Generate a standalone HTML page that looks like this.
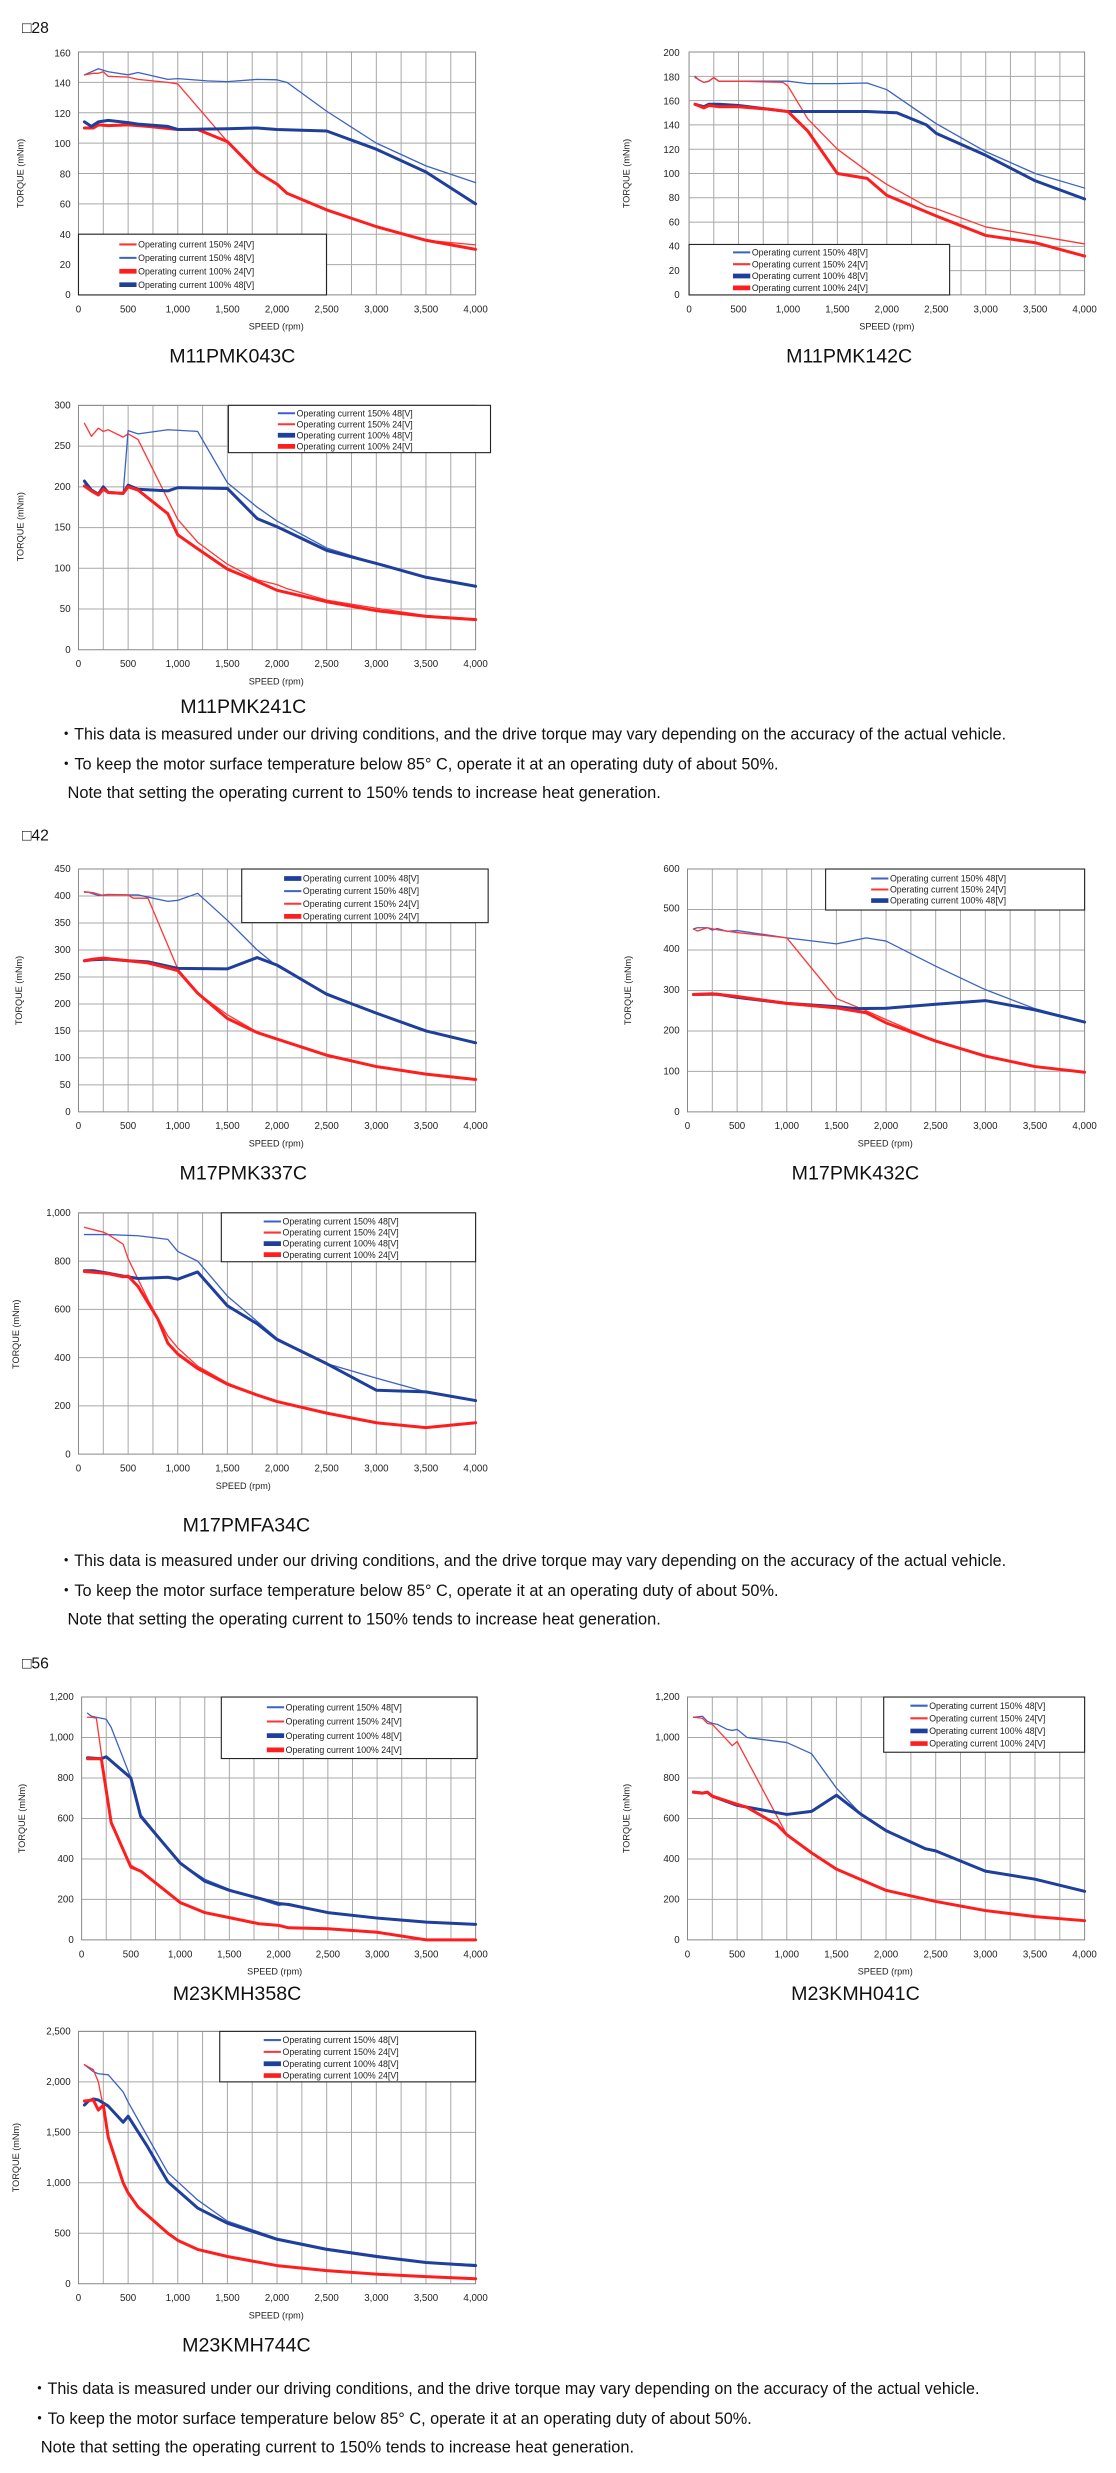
<!DOCTYPE html>
<html><head><meta charset="utf-8"><style>
html,body{margin:0;padding:0;background:#fff}
svg{display:block}
text{font-family:"Liberation Sans","DejaVu Sans",sans-serif;fill:#222}
.g{stroke:#a8a8a8;fill:none;vector-effect:non-scaling-stroke;stroke-width:1}
.bd{stroke:#888;fill:none;vector-effect:non-scaling-stroke;stroke-width:1}
polyline{fill:none;vector-effect:non-scaling-stroke;stroke-linejoin:round;stroke-linecap:round}
.tb{stroke:#3c62c4;stroke-width:1.3}
.tr{stroke:#ff3535;stroke-width:1.3}
.Tb{stroke:#1e3f9c;stroke-width:3}
.Tr{stroke:#ff1e1e;stroke-width:3}
.lg{fill:#fff;stroke:#222;stroke-width:.7}
.lt{font-size:5.6px}
.yt{font-size:6.2px;text-anchor:end}
.xt{font-size:6.2px;text-anchor:middle}
.ax{font-size:5.8px;text-anchor:middle}
.ti{font-size:12.5px;text-anchor:middle;fill:#111}
.nt{font-size:10.5px;fill:#111}
.hd{font-size:10px;fill:#111}
</style></head><body>
<svg width="1116" height="2473" viewBox="0 0 711 1568" preserveAspectRatio="none" xmlns="http://www.w3.org/2000/svg">

<text class="hd" x="14" y="21" font-family="DejaVu Sans">□28</text>

<!-- Chart 1 -->
<svg x="50" y="33" width="253" height="154" viewBox="0 0 4000 160" preserveAspectRatio="none" overflow="visible"><g transform="translate(0 160) scale(1 -1)">
<path class="g" d="M250 0V160M500 0V160M750 0V160M1000 0V160M1250 0V160M1500 0V160M1750 0V160M2000 0V160M2250 0V160M2500 0V160M2750 0V160M3000 0V160M3250 0V160M3500 0V160M3750 0V160M0 20H4000M0 40H4000M0 60H4000M0 80H4000M0 100H4000M0 120H4000M0 140H4000M0 160H4000"/>
<rect class="bd" x="0" y="0" width="4000" height="160"/>
<polyline class="tb" points="60,145 200,149 300,147 500,145 600,146.5 900,142 1000,142.5 1300,141 1500,140.5 1800,142 2000,141.7 2100,140 2500,121 3000,100 3500,85 4000,74"/>
<polyline class="tr" points="60,145 150,146 200,146 250,147 300,144 500,143.5 600,142 900,140 1000,139 1500,101 1800,81 2000,73 2100,67 2500,56 3000,45 3500,36 4000,33"/>
<polyline class="Tr" points="60,110 150,110 200,112 300,111.5 500,112 700,111 1000,109 1200,109 1500,101 1800,81 2000,73 2100,67 2500,56 3000,45 3500,36 4000,30"/>
<polyline class="Tb" points="60,114 130,111 200,114 300,115 500,113.5 600,112.5 900,111 1000,109 1500,109.5 1800,110 2000,109 2500,108 3000,96 3500,81 4000,60"/>
</g></svg>
<rect class="lg" x="50" y="148.5" width="158" height="38.5"/>
<line class="tr" x1="76" y1="155" x2="87" y2="155"/><text class="lt" x="88" y="157">Operating current 150% 24[V]</text>
<line class="tb" x1="76" y1="163.5" x2="87" y2="163.5"/><text class="lt" x="88" y="165.5">Operating current 150% 48[V]</text>
<line class="Tr" x1="76" y1="172" x2="87" y2="172"/><text class="lt" x="88" y="174">Operating current 100% 24[V]</text>
<line class="Tb" x1="76" y1="180.5" x2="87" y2="180.5"/><text class="lt" x="88" y="182.5">Operating current 100% 48[V]</text>
<text class="yt" x="45" y="189">0</text><text class="yt" x="45" y="170">20</text><text class="yt" x="45" y="150.8">40</text><text class="yt" x="45" y="131.6">60</text><text class="yt" x="45" y="112.4">80</text><text class="yt" x="45" y="93.3">100</text><text class="yt" x="45" y="74.1">120</text><text class="yt" x="45" y="55">140</text><text class="yt" x="45" y="35.8">160</text>
<g class="xt"><text class="xt" x="50" y="198">0</text><text class="xt" x="81.6" y="198">500</text><text class="xt" x="113.3" y="198">1,000</text><text class="xt" x="144.9" y="198">1,500</text><text class="xt" x="176.5" y="198">2,000</text><text class="xt" x="208.1" y="198">2,500</text><text class="xt" x="239.8" y="198">3,000</text><text class="xt" x="271.4" y="198">3,500</text><text class="xt" x="303" y="198">4,000</text></g>
<text class="ax" x="176" y="209">SPEED (rpm)</text>
<text class="ax" transform="translate(15 110) rotate(-90)">TORQUE (mNm)</text>
<text class="ti" x="148" y="230">M11PMK043C</text>

<!-- Chart 2 -->
<svg x="439" y="33" width="252" height="154" viewBox="0 0 4000 200" preserveAspectRatio="none" overflow="visible"><g transform="translate(0 200) scale(1 -1)">
<path class="g" d="M250 0V200M500 0V200M750 0V200M1000 0V200M1250 0V200M1500 0V200M1750 0V200M2000 0V200M2250 0V200M2500 0V200M2750 0V200M3000 0V200M3250 0V200M3500 0V200M3750 0V200M0 20H4000M0 40H4000M0 60H4000M0 80H4000M0 100H4000M0 120H4000M0 140H4000M0 160H4000M0 180H4000M0 200H4000"/>
<rect class="bd" x="0" y="0" width="4000" height="200"/>
<polyline class="tb" points="60,180 100,177 150,175 200,176 250,179 300,176 500,176 1000,176 1200,174 1500,174 1800,174.5 2000,169 2500,141 3000,118 3500,100 4000,88"/>
<polyline class="tr" points="60,179 150,175 200,176 250,179 300,176 500,176 950,175 1000,172 1200,145 1500,120 1800,102 2000,91 2200,82 2400,73 2500,71 3000,56 3500,49 4000,42"/>
<polyline class="Tb" points="60,157 150,155 200,157 300,157 500,156 1000,151 1500,151 1800,151 2100,150 2400,140 2500,133 3000,115 3500,94 4000,79"/>
<polyline class="Tr" points="60,157 150,154 200,156 300,155 500,155 800,153 1000,151 1200,135 1500,100 1800,96 2000,82 2500,65 3000,49 3500,43 4000,32"/>
</g></svg>
<rect class="lg" x="439" y="155" width="166" height="32"/>
<line class="tb" x1="467" y1="160" x2="478" y2="160"/><text class="lt" x="479" y="162">Operating current 150% 48[V]</text>
<line class="tr" x1="467" y1="167.5" x2="478" y2="167.5"/><text class="lt" x="479" y="169.5">Operating current 150% 24[V]</text>
<line class="Tb" x1="467" y1="175" x2="478" y2="175"/><text class="lt" x="479" y="177">Operating current 100% 48[V]</text>
<line class="Tr" x1="467" y1="182.5" x2="478" y2="182.5"/><text class="lt" x="479" y="184.5">Operating current 100% 24[V]</text>
<text class="yt" x="433" y="189">0</text><text class="yt" x="433" y="173.7">20</text><text class="yt" x="433" y="158.3">40</text><text class="yt" x="433" y="143">60</text><text class="yt" x="433" y="127.6">80</text><text class="yt" x="433" y="112.3">100</text><text class="yt" x="433" y="96.9">120</text><text class="yt" x="433" y="81.6">140</text><text class="yt" x="433" y="66.2">160</text><text class="yt" x="433" y="50.9">180</text><text class="yt" x="433" y="35.5">200</text>
<text class="xt" x="439" y="198">0</text><text class="xt" x="470.5" y="198">500</text><text class="xt" x="502" y="198">1,000</text><text class="xt" x="533.5" y="198">1,500</text><text class="xt" x="565" y="198">2,000</text><text class="xt" x="596.5" y="198">2,500</text><text class="xt" x="628" y="198">3,000</text><text class="xt" x="659.5" y="198">3,500</text><text class="xt" x="691" y="198">4,000</text>
<text class="ax" x="565" y="209">SPEED (rpm)</text>
<text class="ax" transform="translate(401 110) rotate(-90)">TORQUE (mNm)</text>
<text class="ti" x="541" y="230">M11PMK142C</text>

<!-- Chart 3 -->
<svg x="50" y="257" width="253" height="155" viewBox="0 0 4000 300" preserveAspectRatio="none" overflow="visible"><g transform="translate(0 300) scale(1 -1)">
<path class="g" d="M250 0V300M500 0V300M750 0V300M1000 0V300M1250 0V300M1500 0V300M1750 0V300M2000 0V300M2250 0V300M2500 0V300M2750 0V300M3000 0V300M3250 0V300M3500 0V300M3750 0V300M0 50H4000M0 100H4000M0 150H4000M0 200H4000M0 250H4000M0 300H4000"/>
<rect class="bd" x="0" y="0" width="4000" height="300"/>
<polyline class="tr" points="60,278 130,262 200,272 250,268 300,270 450,261 500,265 600,258 1000,160 1200,132 1500,105 1800,86 2000,80 2100,75 2500,61 3000,51 3500,42 4000,38"/>
<polyline class="tb" points="60,205 130,196 200,191 250,199 300,193 450,192 500,269 600,265 900,270 1200,268 1500,205 1800,175 2000,158 2500,125 3000,106 3500,89 4000,78"/>
<polyline class="Tb" points="60,207 130,196 200,191 250,200 300,193 450,192 500,202 600,197 900,195 1000,199 1500,198 1800,161 2000,151 2500,122 3000,106 3500,89 4000,78"/>
<polyline class="Tr" points="60,201 130,195 200,190 250,197 300,193 450,192 500,200 600,196 900,167 1000,141 1200,124 1500,99 1800,84 2000,73 2500,59 3000,48 3500,41 4000,37"/>
</g></svg>
<rect class="lg" x="145.5" y="257" width="167" height="30"/>
<line class="tb" x1="177" y1="262" x2="188" y2="262"/><text class="lt" x="189" y="264">Operating current 150% 48[V]</text>
<line class="tr" x1="177" y1="269" x2="188" y2="269"/><text class="lt" x="189" y="271">Operating current 150% 24[V]</text>
<line class="Tb" x1="177" y1="276" x2="188" y2="276"/><text class="lt" x="189" y="278">Operating current 100% 48[V]</text>
<line class="Tr" x1="177" y1="283" x2="188" y2="283"/><text class="lt" x="189" y="285">Operating current 100% 24[V]</text>
<text class="yt" x="45" y="414">0</text><text class="yt" x="45" y="388.2">50</text><text class="yt" x="45" y="362.3">100</text><text class="yt" x="45" y="336.5">150</text><text class="yt" x="45" y="310.7">200</text><text class="yt" x="45" y="284.8">250</text><text class="yt" x="45" y="259">300</text>
<text class="xt" x="50" y="423">0</text><text class="xt" x="81.6" y="423">500</text><text class="xt" x="113.3" y="423">1,000</text><text class="xt" x="144.9" y="423">1,500</text><text class="xt" x="176.5" y="423">2,000</text><text class="xt" x="208.1" y="423">2,500</text><text class="xt" x="239.8" y="423">3,000</text><text class="xt" x="271.4" y="423">3,500</text><text class="xt" x="303" y="423">4,000</text>
<text class="ax" x="176" y="434">SPEED (rpm)</text>
<text class="ax" transform="translate(15 334) rotate(-90)">TORQUE (mNm)</text>
<text class="ti" x="155" y="452">M11PMK241C</text>

<text class="nt" x="37" y="469" textLength="604" lengthAdjust="spacingAndGlyphs">・This data is measured under our driving conditions, and the drive torque may vary depending on the accuracy of the actual vehicle.</text>
<text class="nt" x="37" y="488" textLength="459" lengthAdjust="spacingAndGlyphs">・To keep the motor surface temperature below 85°  C, operate it at an operating duty of about 50%.</text>
<text class="nt" x="43" y="506" textLength="378" lengthAdjust="spacingAndGlyphs">Note that setting the operating current to 150% tends to increase heat generation.</text>

<text class="hd" x="14" y="533" font-family="DejaVu Sans">□42</text>

<!-- Chart 4 -->
<svg x="50" y="551" width="253" height="154" viewBox="0 0 4000 450" preserveAspectRatio="none" overflow="visible"><g transform="translate(0 450) scale(1 -1)">
<path class="g" d="M250 0V450M500 0V450M750 0V450M1000 0V450M1250 0V450M1500 0V450M1750 0V450M2000 0V450M2250 0V450M2500 0V450M2750 0V450M3000 0V450M3250 0V450M3500 0V450M3750 0V450M0 50H4000M0 100H4000M0 150H4000M0 200H4000M0 250H4000M0 300H4000M0 350H4000M0 400H4000M0 450H4000"/>
<rect class="bd" x="0" y="0" width="4000" height="450"/>
<polyline class="tb" points="60,407 100,407 200,401 300,403 500,402 600,402 900,390 1000,392 1200,405 1500,355 1800,300 2000,270 2500,220 3000,183 3500,150 4000,128"/>
<polyline class="tr" points="60,408 150,406 250,401 300,402 500,402 550,396 700,396 1000,265 1200,220 1500,180 1800,148 2000,135 2500,105 3000,84 3500,70 4000,60"/>
<polyline class="Tb" points="60,280 150,282 300,283 500,280 700,278 1000,266 1500,265 1800,286 2000,272 2500,218 3000,183 3500,150 4000,128"/>
<polyline class="Tr" points="60,280 150,283 250,285 500,280 700,276 1000,262 1200,220 1500,173 1800,147 2000,135 2500,105 3000,84 3500,70 4000,60"/>
</g></svg>
<rect class="lg" x="154" y="551" width="157" height="34"/>
<line class="Tb" x1="181" y1="557" x2="192" y2="557"/><text class="lt" x="193" y="559">Operating current 100% 48[V]</text>
<line class="tb" x1="181" y1="565" x2="192" y2="565"/><text class="lt" x="193" y="567">Operating current 150% 48[V]</text>
<line class="tr" x1="181" y1="573" x2="192" y2="573"/><text class="lt" x="193" y="575">Operating current 150% 24[V]</text>
<line class="Tr" x1="181" y1="581" x2="192" y2="581"/><text class="lt" x="193" y="583">Operating current 100% 24[V]</text>
<text class="yt" x="45" y="707">0</text><text class="yt" x="45" y="690">50</text><text class="yt" x="45" y="672.8">100</text><text class="yt" x="45" y="655.7">150</text><text class="yt" x="45" y="638.6">200</text><text class="yt" x="45" y="621.4">250</text><text class="yt" x="45" y="604.3">300</text><text class="yt" x="45" y="587.2">350</text><text class="yt" x="45" y="570.1">400</text><text class="yt" x="45" y="553">450</text>
<text class="xt" x="50" y="716">0</text><text class="xt" x="81.6" y="716">500</text><text class="xt" x="113.3" y="716">1,000</text><text class="xt" x="144.9" y="716">1,500</text><text class="xt" x="176.5" y="716">2,000</text><text class="xt" x="208.1" y="716">2,500</text><text class="xt" x="239.8" y="716">3,000</text><text class="xt" x="271.4" y="716">3,500</text><text class="xt" x="303" y="716">4,000</text>
<text class="ax" x="176" y="727">SPEED (rpm)</text>
<text class="ax" transform="translate(14 628) rotate(-90)">TORQUE (mNm)</text>
<text class="ti" x="155" y="748">M17PMK337C</text>

<!-- Chart 5 -->
<svg x="438" y="551" width="253" height="154" viewBox="0 0 4000 600" preserveAspectRatio="none" overflow="visible"><g transform="translate(0 600) scale(1 -1)">
<path class="g" d="M250 0V600M500 0V600M750 0V600M1000 0V600M1250 0V600M1500 0V600M1750 0V600M2000 0V600M2250 0V600M2500 0V600M2750 0V600M3000 0V600M3250 0V600M3500 0V600M3750 0V600M0 100H4000M0 200H4000M0 300H4000M0 400H4000M0 500H4000M0 600H4000"/>
<rect class="bd" x="0" y="0" width="4000" height="600"/>
<polyline class="tb" points="60,452 100,455 200,455 250,449 300,453 400,446 500,448 1000,430 1500,415 1800,430 2000,422 2500,360 3000,302 3500,255 4000,222"/>
<polyline class="tr" points="60,452 100,447 200,455 300,450 500,443 1000,430 1500,280 1800,250 2000,228 2500,175 3000,138 3500,112 4000,98"/>
<polyline class="Tb" points="60,290 300,291 500,283 1000,268 1500,260 1700,255 2000,256 2500,266 3000,275 3500,252 4000,222"/>
<polyline class="Tr" points="60,290 250,292 500,285 1000,268 1500,257 1800,245 2000,220 2500,175 3000,138 3500,112 4000,98"/>
</g></svg>
<rect class="lg" x="526" y="551" width="165" height="26"/>
<line class="tb" x1="555" y1="557" x2="566" y2="557"/><text class="lt" x="567" y="559">Operating current 150% 48[V]</text>
<line class="tr" x1="555" y1="564" x2="566" y2="564"/><text class="lt" x="567" y="566">Operating current 150% 24[V]</text>
<line class="Tb" x1="555" y1="571" x2="566" y2="571"/><text class="lt" x="567" y="573">Operating current 100% 48[V]</text>
<text class="yt" x="433" y="707">0</text><text class="yt" x="433" y="681.2">100</text><text class="yt" x="433" y="655.3">200</text><text class="yt" x="433" y="629.5">300</text><text class="yt" x="433" y="603.7">400</text><text class="yt" x="433" y="577.8">500</text><text class="yt" x="433" y="553">600</text>
<text class="xt" x="438" y="716">0</text><text class="xt" x="469.6" y="716">500</text><text class="xt" x="501.3" y="716">1,000</text><text class="xt" x="532.9" y="716">1,500</text><text class="xt" x="564.5" y="716">2,000</text><text class="xt" x="596.1" y="716">2,500</text><text class="xt" x="627.8" y="716">3,000</text><text class="xt" x="659.4" y="716">3,500</text><text class="xt" x="691" y="716">4,000</text>
<text class="ax" x="564" y="727">SPEED (rpm)</text>
<text class="ax" transform="translate(402 628) rotate(-90)">TORQUE (mNm)</text>
<text class="ti" x="545" y="748">M17PMK432C</text>

<!-- Chart 6 -->
<svg x="50" y="769" width="253" height="153" viewBox="0 0 4000 1000" preserveAspectRatio="none" overflow="visible"><g transform="translate(0 1000) scale(1 -1)">
<path class="g" d="M250 0V1000M500 0V1000M750 0V1000M1000 0V1000M1250 0V1000M1500 0V1000M1750 0V1000M2000 0V1000M2250 0V1000M2500 0V1000M2750 0V1000M3000 0V1000M3250 0V1000M3500 0V1000M3750 0V1000M0 200H4000M0 400H4000M0 600H4000M0 800H4000M0 1000H4000"/>
<rect class="bd" x="0" y="0" width="4000" height="1000"/>
<polyline class="tb" points="60,910 300,910 600,905 900,890 1000,840 1200,800 1500,655 2000,480 2500,375 3000,315 3500,258 4000,222"/>
<polyline class="tr" points="60,940 200,925 250,920 300,910 450,870 500,810 700,640 900,490 1000,440 1200,365 1500,295 1800,245 2000,218 2500,170 3000,130 3500,110 4000,130"/>
<polyline class="Tb" points="60,760 150,760 300,750 450,738 600,728 900,733 1000,725 1200,755 1500,615 1800,540 2000,475 2500,375 3000,265 3500,258 4000,222"/>
<polyline class="Tr" points="60,757 200,752 300,748 450,735 500,738 600,695 800,560 900,460 1000,415 1200,355 1500,290 1800,245 2000,218 2500,170 3000,130 3500,110 4000,130"/>
</g></svg>
<rect class="lg" x="141" y="769" width="162" height="31"/>
<line class="tb" x1="168" y1="774.5" x2="179" y2="774.5"/><text class="lt" x="180" y="776.5">Operating current 150% 48[V]</text>
<line class="tr" x1="168" y1="781.5" x2="179" y2="781.5"/><text class="lt" x="180" y="783.5">Operating current 150% 24[V]</text>
<line class="Tb" x1="168" y1="788.5" x2="179" y2="788.5"/><text class="lt" x="180" y="790.5">Operating current 100% 48[V]</text>
<line class="Tr" x1="168" y1="795.5" x2="179" y2="795.5"/><text class="lt" x="180" y="797.5">Operating current 100% 24[V]</text>
<text class="yt" x="45" y="924">0</text><text class="yt" x="45" y="893.4">200</text><text class="yt" x="45" y="862.8">400</text><text class="yt" x="45" y="832.2">600</text><text class="yt" x="45" y="801.6">800</text><text class="yt" x="45" y="771">1,000</text>
<text class="xt" x="50" y="933">0</text><text class="xt" x="81.6" y="933">500</text><text class="xt" x="113.3" y="933">1,000</text><text class="xt" x="144.9" y="933">1,500</text><text class="xt" x="176.5" y="933">2,000</text><text class="xt" x="208.1" y="933">2,500</text><text class="xt" x="239.8" y="933">3,000</text><text class="xt" x="271.4" y="933">3,500</text><text class="xt" x="303" y="933">4,000</text>
<text class="ax" x="155" y="944">SPEED (rpm)</text>
<text class="ax" transform="translate(12 846) rotate(-90)">TORQUE (mNm)</text>
<text class="ti" x="157" y="971">M17PMFA34C</text>

<text class="nt" x="37" y="993" textLength="604" lengthAdjust="spacingAndGlyphs">・This data is measured under our driving conditions, and the drive torque may vary depending on the accuracy of the actual vehicle.</text>
<text class="nt" x="37" y="1012" textLength="459" lengthAdjust="spacingAndGlyphs">・To keep the motor surface temperature below 85°  C, operate it at an operating duty of about 50%.</text>
<text class="nt" x="43" y="1030" textLength="378" lengthAdjust="spacingAndGlyphs">Note that setting the operating current to 150% tends to increase heat generation.</text>

<text class="hd" x="14" y="1058" font-family="DejaVu Sans">□56</text>

<!-- Chart 7 -->
<svg x="52" y="1076" width="251" height="154" viewBox="0 0 4000 1200" preserveAspectRatio="none" overflow="visible"><g transform="translate(0 1200) scale(1 -1)">
<path class="g" d="M250 0V1200M500 0V1200M750 0V1200M1000 0V1200M1250 0V1200M1500 0V1200M1750 0V1200M2000 0V1200M2250 0V1200M2500 0V1200M2750 0V1200M3000 0V1200M3250 0V1200M3500 0V1200M3750 0V1200M0 200H4000M0 400H4000M0 600H4000M0 800H4000M0 1000H4000M0 1200H4000"/>
<rect class="bd" x="0" y="0" width="4000" height="1200"/>
<polyline class="tb" points="60,1120 100,1105 200,1095 250,1090 300,1050 500,800 600,620 1000,380 1250,300 1500,250 2000,170 2100,180 2500,135 3000,108 3500,88 4000,77"/>
<polyline class="tr" points="60,1100 100,1100 150,1095 300,570 500,370 600,340 1000,180 1250,135 1500,110 1800,80 2000,70 2100,60 2500,55 3000,38 3500,0 4000,0"/>
<polyline class="Tb" points="60,900 200,895 250,905 500,800 600,610 1000,380 1250,290 1500,245 2000,180 2100,175 2500,135 3000,108 3500,88 4000,77"/>
<polyline class="Tr" points="60,895 200,895 300,580 500,360 600,340 1000,185 1250,135 1500,110 1800,80 2000,72 2100,60 2500,55 3000,38 3500,0 4000,0"/>
</g></svg>
<rect class="lg" x="141" y="1076" width="163" height="39"/>
<line class="tb" x1="170" y1="1082.5" x2="181" y2="1082.5"/><text class="lt" x="182" y="1084.5">Operating current 150% 48[V]</text>
<line class="tr" x1="170" y1="1091.5" x2="181" y2="1091.5"/><text class="lt" x="182" y="1093.5">Operating current 150% 24[V]</text>
<line class="Tb" x1="170" y1="1100.5" x2="181" y2="1100.5"/><text class="lt" x="182" y="1102.5">Operating current 100% 48[V]</text>
<line class="Tr" x1="170" y1="1109.5" x2="181" y2="1109.5"/><text class="lt" x="182" y="1111.5">Operating current 100% 24[V]</text>
<text class="yt" x="47" y="1232">0</text><text class="yt" x="47" y="1206.3">200</text><text class="yt" x="47" y="1180.7">400</text><text class="yt" x="47" y="1155">600</text><text class="yt" x="47" y="1129.3">800</text><text class="yt" x="47" y="1103.7">1,000</text><text class="yt" x="47" y="1078">1,200</text>
<text class="xt" x="52" y="1241">0</text><text class="xt" x="83.4" y="1241">500</text><text class="xt" x="114.8" y="1241">1,000</text><text class="xt" x="146.1" y="1241">1,500</text><text class="xt" x="177.5" y="1241">2,000</text><text class="xt" x="208.9" y="1241">2,500</text><text class="xt" x="240.3" y="1241">3,000</text><text class="xt" x="271.6" y="1241">3,500</text><text class="xt" x="303" y="1241">4,000</text>
<text class="ax" x="175" y="1252">SPEED (rpm)</text>
<text class="ax" transform="translate(16 1153) rotate(-90)">TORQUE (mNm)</text>
<text class="ti" x="151" y="1268">M23KMH358C</text>

<!-- Chart 8 -->
<svg x="438" y="1076" width="253" height="154" viewBox="0 0 4000 1200" preserveAspectRatio="none" overflow="visible"><g transform="translate(0 1200) scale(1 -1)">
<path class="g" d="M250 0V1200M500 0V1200M750 0V1200M1000 0V1200M1250 0V1200M1500 0V1200M1750 0V1200M2000 0V1200M2250 0V1200M2500 0V1200M2750 0V1200M3000 0V1200M3250 0V1200M3500 0V1200M3750 0V1200M0 200H4000M0 400H4000M0 600H4000M0 800H4000M0 1000H4000M0 1200H4000"/>
<rect class="bd" x="0" y="0" width="4000" height="1200"/>
<polyline class="tb" points="60,1100 150,1105 200,1080 250,1070 300,1065 400,1040 450,1035 500,1040 600,1000 1000,975 1250,920 1500,750 1750,620 2000,540 2400,450 2500,440 3000,340 3500,300 4000,240"/>
<polyline class="tr" points="60,1100 150,1095 200,1070 250,1065 450,960 500,980 1000,520 1250,430 1500,350 2000,245 2500,190 3000,145 3500,115 4000,95"/>
<polyline class="Tb" points="60,730 150,725 200,730 250,710 500,665 1000,620 1250,635 1500,715 1750,620 2000,540 2400,450 2500,440 3000,340 3500,300 4000,240"/>
<polyline class="Tr" points="60,730 150,725 200,730 250,710 500,670 600,655 900,570 1000,520 1250,430 1500,350 2000,245 2500,190 3000,145 3500,115 4000,95"/>
</g></svg>
<rect class="lg" x="563" y="1076" width="128" height="35"/>
<line class="tb" x1="580" y1="1081.5" x2="591" y2="1081.5"/><text class="lt" x="592" y="1083.5">Operating current 150% 48[V]</text>
<line class="tr" x1="580" y1="1089.5" x2="591" y2="1089.5"/><text class="lt" x="592" y="1091.5">Operating current 150% 24[V]</text>
<line class="Tb" x1="580" y1="1097.5" x2="591" y2="1097.5"/><text class="lt" x="592" y="1099.5">Operating current 100% 48[V]</text>
<line class="Tr" x1="580" y1="1105.5" x2="591" y2="1105.5"/><text class="lt" x="592" y="1107.5">Operating current 100% 24[V]</text>
<text class="yt" x="433" y="1232">0</text><text class="yt" x="433" y="1206.3">200</text><text class="yt" x="433" y="1180.7">400</text><text class="yt" x="433" y="1155">600</text><text class="yt" x="433" y="1129.3">800</text><text class="yt" x="433" y="1103.7">1,000</text><text class="yt" x="433" y="1078">1,200</text>
<text class="xt" x="438" y="1241">0</text><text class="xt" x="469.6" y="1241">500</text><text class="xt" x="501.3" y="1241">1,000</text><text class="xt" x="532.9" y="1241">1,500</text><text class="xt" x="564.5" y="1241">2,000</text><text class="xt" x="596.1" y="1241">2,500</text><text class="xt" x="627.8" y="1241">3,000</text><text class="xt" x="659.4" y="1241">3,500</text><text class="xt" x="691" y="1241">4,000</text>
<text class="ax" x="564" y="1252">SPEED (rpm)</text>
<text class="ax" transform="translate(401 1153) rotate(-90)">TORQUE (mNm)</text>
<text class="ti" x="545" y="1268">M23KMH041C</text>

<!-- Chart 9 -->
<svg x="50" y="1288" width="253" height="160" viewBox="0 0 4000 2500" preserveAspectRatio="none" overflow="visible"><g transform="translate(0 2500) scale(1 -1)">
<path class="g" d="M250 0V2500M500 0V2500M750 0V2500M1000 0V2500M1250 0V2500M1500 0V2500M1750 0V2500M2000 0V2500M2250 0V2500M2500 0V2500M2750 0V2500M3000 0V2500M3250 0V2500M3500 0V2500M3750 0V2500M0 500H4000M0 1000H4000M0 1500H4000M0 2000H4000M0 2500H4000"/>
<rect class="bd" x="0" y="0" width="4000" height="2500"/>
<polyline class="tb" points="60,2170 150,2100 200,2080 300,2070 450,1900 500,1800 700,1450 900,1100 1200,830 1500,620 2000,450 2500,350 3000,280 3500,210 4000,190"/>
<polyline class="tr" points="60,2170 150,2120 200,2000 250,1750 300,1450 450,1000 500,900 600,760 900,500 1000,430 1200,340 1500,270 2000,180 2500,130 3000,95 3500,70 4000,50"/>
<polyline class="Tb" points="60,1770 100,1810 150,1830 200,1820 300,1760 450,1600 500,1660 700,1350 900,1010 1200,750 1500,600 2000,440 2500,340 3000,270 3500,210 4000,180"/>
<polyline class="Tr" points="60,1810 150,1820 200,1720 250,1770 300,1450 450,1000 500,900 600,760 900,500 1000,430 1200,340 1500,270 2000,180 2500,130 3000,95 3500,70 4000,50"/>
</g></svg>
<rect class="lg" x="140" y="1288" width="163" height="32"/>
<line class="tb" x1="168" y1="1293.5" x2="179" y2="1293.5"/><text class="lt" x="180" y="1295.5">Operating current 150% 48[V]</text>
<line class="tr" x1="168" y1="1301" x2="179" y2="1301"/><text class="lt" x="180" y="1303">Operating current 150% 24[V]</text>
<line class="Tb" x1="168" y1="1308.5" x2="179" y2="1308.5"/><text class="lt" x="180" y="1310.5">Operating current 100% 48[V]</text>
<line class="Tr" x1="168" y1="1316" x2="179" y2="1316"/><text class="lt" x="180" y="1318">Operating current 100% 24[V]</text>
<text class="yt" x="45" y="1450">0</text><text class="yt" x="45" y="1418">500</text><text class="yt" x="45" y="1386">1,000</text><text class="yt" x="45" y="1354">1,500</text><text class="yt" x="45" y="1322">2,000</text><text class="yt" x="45" y="1290">2,500</text>
<text class="xt" x="50" y="1459">0</text><text class="xt" x="81.6" y="1459">500</text><text class="xt" x="113.3" y="1459">1,000</text><text class="xt" x="144.9" y="1459">1,500</text><text class="xt" x="176.5" y="1459">2,000</text><text class="xt" x="208.1" y="1459">2,500</text><text class="xt" x="239.8" y="1459">3,000</text><text class="xt" x="271.4" y="1459">3,500</text><text class="xt" x="303" y="1459">4,000</text>
<text class="ax" x="176" y="1470">SPEED (rpm)</text>
<text class="ax" transform="translate(12 1368) rotate(-90)">TORQUE (mNm)</text>
<text class="ti" x="157" y="1491">M23KMH744C</text>

<text class="nt" x="20" y="1518" textLength="604" lengthAdjust="spacingAndGlyphs">・This data is measured under our driving conditions, and the drive torque may vary depending on the accuracy of the actual vehicle.</text>
<text class="nt" x="20" y="1537" textLength="459" lengthAdjust="spacingAndGlyphs">・To keep the motor surface temperature below 85°  C, operate it at an operating duty of about 50%.</text>
<text class="nt" x="26" y="1555" textLength="378" lengthAdjust="spacingAndGlyphs">Note that setting the operating current to 150% tends to increase heat generation.</text>
</svg>
</body></html>
